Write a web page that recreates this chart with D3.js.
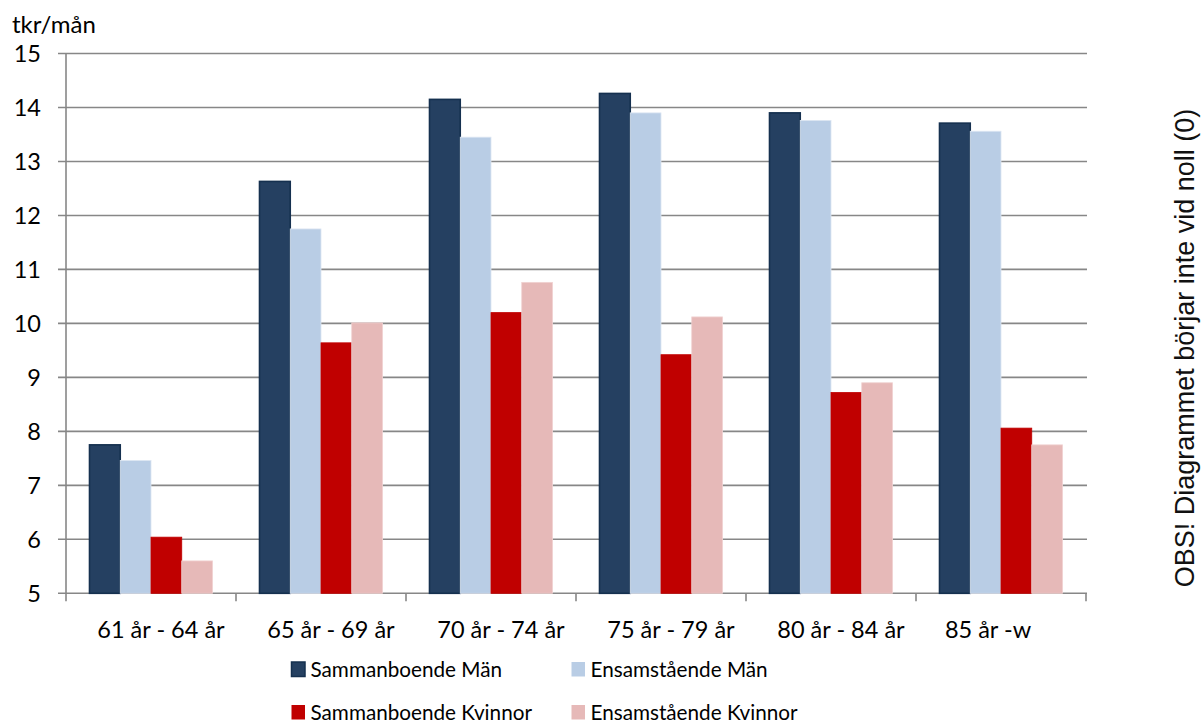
<!DOCTYPE html>
<meta charset="utf-8">
<style>
  body { margin: 0; background: #fff; }
  text { font-family: Lato, "Open Sans", sans-serif; fill: #000; }
  .grid line { stroke: #878787; stroke-width: 1.6px; }
  .note { font-family: "Liberation Sans", Arial, sans-serif; fill: #111; }
</style>
<script src="https://d3js.org/d3.v7.min.js"></script>
<div id="chart"></div>
<script>

var categories = ["61 år - 64 år", "65 år - 69 år", "70 år - 74 år", "75 år - 79 år", "80 år - 84 år", "85 år -w"];
var seriesNames = ["Sammanboende Män", "Ensamstående Män", "Sammanboende Kvinnor", "Ensamstående Kvinnor"];
var sammanboendeMan = [7.75, 12.63, 14.15, 14.26, 13.9, 13.71];
var ensamstaendeMan = [7.46, 11.75, 13.45, 13.9, 13.76, 13.56];
var sammanboendeKvinnor = [6.04, 9.64, 10.2, 9.42, 8.72, 8.06];
var ensamstaendeKvinnor = [5.6, 10.01, 10.76, 10.12, 8.9, 7.75];
var yTicks = [5, 6, 7, 8, 9, 10, 11, 12, 13, 14, 15];

var seriesValues = [sammanboendeMan, ensamstaendeMan, sammanboendeKvinnor, ensamstaendeKvinnor];
var colors = ["#254061", "#b9cde5", "#c00000", "#e6b9b8"];
var strokes = ["#15304f", "#dde6f2", "#c00000", "#f0d2d1"];

var width = 1201, height = 724;
var svg = d3.select("#chart").append("svg")
    .attr("width", width)
    .attr("height", height);

var x = d3.scaleBand().domain(categories).range([66, 1086]);
var xs = d3.scaleBand().domain(seriesNames).range([23.5, 146.5]);
var y = d3.scaleLinear().domain([5, 15]).range([593.3, 53.5]);

// gridlines + y ticks
var grid = svg.append("g").attr("class", "grid");
grid.selectAll("line.h")
    .data(yTicks)
  .enter().append("line")
    .attr("class", "h")
    .attr("x1", 58).attr("x2", 1087)
    .attr("y1", d => y(d)).attr("y2", d => y(d));

// y axis line
grid.append("line")
    .attr("x1", 66).attr("x2", 66)
    .attr("y1", y(15)).attr("y2", y(5));

// x ticks at category boundaries
var bounds = categories.map(c => x(c)).concat([x(categories[categories.length - 1]) + x.bandwidth()]);
grid.selectAll("line.xt")
    .data(bounds)
  .enter().append("line")
    .attr("class", "xt")
    .attr("x1", d => d).attr("x2", d => d)
    .attr("y1", y(5)).attr("y2", y(5) + 8);

svg.append("g").selectAll("text")
    .data(yTicks)
  .enter().append("text")
    .attr("x", 41)
    .attr("y", d => y(d))
    .attr("dy", "0.36em")
    .attr("text-anchor", "end")
    .style("font-size", "23.5px")
    .text(d => d);

// bars
var groups = svg.append("g").selectAll("g")
    .data(categories)
  .enter().append("g")
    .attr("transform", d => "translate(" + x(d) + ",0)");

groups.selectAll("rect")
    .data((c, i) => seriesNames.map((s, j) => ({ s: s, j: j, v: seriesValues[j][i] })))
  .enter().append("rect")
    .attr("x", d => xs(d.s))
    .attr("width", xs.bandwidth())
    .attr("y", d => y(d.v))
    .attr("height", d => y(5) - y(d.v))
    .attr("fill", d => colors[d.j])
    .attr("stroke", d => strokes[d.j])
    .attr("stroke-width", d => d.j === 0 ? 1.6 : 0.8);

// category labels
svg.append("g").selectAll("text")
    .data(categories)
  .enter().append("text")
    .attr("x", d => x(d) + x.bandwidth() / 2)
    .attr("dx", (d, i) => i === categories.length - 1 ? -13 : 10)
    .attr("y", 638)
    .attr("text-anchor", "middle")
    .style("font-size", "23.5px")
    .text(d => d);

// unit label
svg.append("text")
    .attr("x", 12).attr("y", 33)
    .style("font-size", "24px")
    .text("tkr/mån");

// legend
var legendPos = [[291.5, 662], [571.5, 662], [291.5, 705], [571.5, 705]];
var legend = svg.append("g").selectAll("g")
    .data(seriesNames)
  .enter().append("g")
    .attr("transform", (d, i) => "translate(" + legendPos[i][0] + "," + legendPos[i][1] + ")");

legend.append("rect")
    .attr("width", 13.5).attr("height", 14.5)
    .attr("fill", (d, i) => colors[i])
    .attr("stroke", (d, i) => i === 0 ? strokes[0] : "none")
    .attr("stroke-width", 1.5);

legend.append("text")
    .attr("x", 19).attr("y", 14.5)
    .style("font-size", "20.7px")
    .text(d => d);

// side note
svg.append("text")
    .attr("class", "note")
    .attr("transform", "translate(1194,348) rotate(-90)")
    .attr("text-anchor", "middle")
    .style("font-size", "27px")
    .text("OBS! Diagrammet börjar inte vid noll (0)");

</script>
